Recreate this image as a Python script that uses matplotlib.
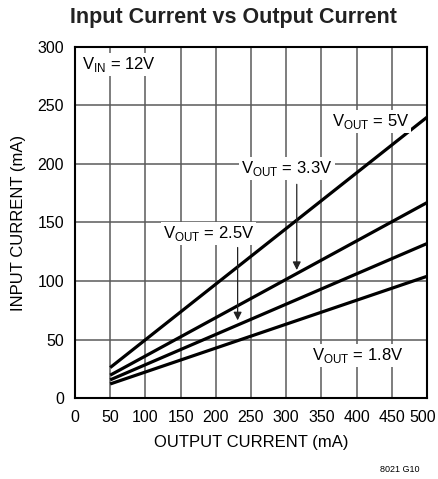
import numpy as np
import matplotlib.pyplot as plt
import matplotlib.transforms as mtransforms

plt.rcParams['font.family'] = ['Liberation Sans', 'DejaVu Sans']

# output current (mA) and input current (mA) for each V_OUT
iout = [50, 500]
iin_5v0 = [26, 240]
iin_3v3 = [19.5, 167]
iin_2v5 = [15.5, 132]
iin_1v8 = [12, 104]

xticks = [0, 50, 100, 150, 200, 250, 300, 350, 400, 450, 500]
yticks = [0, 50, 100, 150, 200, 250, 300]

fig = plt.figure(figsize=(4.39, 4.79), dpi=100)
ax = fig.add_axes([75 / 439, 1 - 398 / 479, 352 / 439, 351 / 479])

for y in (iin_5v0, iin_3v3, iin_2v5, iin_1v8):
    ax.plot(iout, y, color='black', lw=2.3, solid_capstyle='butt', zorder=3)

ax.set_xlim(0, 500)
ax.set_ylim(0, 300)
ax.set_xticks(xticks)
ax.set_yticks(yticks)
ax.grid(True, color='#5a5a5a', lw=1.1)
ax.tick_params(length=0, labelsize=11.5)
ax.tick_params(axis='x', pad=9)
ax.tick_params(axis='y', pad=8)
for s in ax.spines.values():
    s.set_linewidth(1.5)

# keep the last x label inside the figure
lbls = ax.get_xticklabels()
lbls[-1].set_transform(lbls[-1].get_transform() +
                       mtransforms.ScaledTranslation(-4 / 100, 0, fig.dpi_scale_trans))

ax.set_xlabel('OUTPUT CURRENT (mA)', fontsize=12, labelpad=7)
ax.set_ylabel('INPUT CURRENT (mA)', fontsize=12, labelpad=8)
fig.text(233 / 439, 1 - 18 / 479, 'Input Current vs Output Current', ha='center', va='center',
         fontsize=15.5, fontweight='bold', color='#222222')

box = dict(facecolor='white', edgecolor='none', pad=1.5)
ax.text(10, 285, r'V$_{\mathregular{IN}}$ = 12V', fontsize=12, va='center', bbox=box, zorder=4)
ax.text(420, 236, r'V$_{\mathregular{OUT}}$ = 5V', fontsize=12, ha='center', va='center', bbox=box, zorder=4)
ax.text(301, 196, r'V$_{\mathregular{OUT}}$ = 3.3V', fontsize=12, ha='center', va='center', bbox=box, zorder=4)
ax.text(190, 141, r'V$_{\mathregular{OUT}}$ = 2.5V', fontsize=12, ha='center', va='center', bbox=box, zorder=4)
ax.text(402, 36, r'V$_{\mathregular{OUT}}$ = 1.8V', fontsize=12, ha='center', va='center', bbox=box, zorder=4)

arrow = dict(arrowstyle='-|>', color='#222222', lw=0.9, mutation_scale=12)
ax.annotate('', xy=(315, 107), xytext=(315, 185), arrowprops=arrow, zorder=5)
ax.annotate('', xy=(231, 64), xytext=(231, 131), arrowprops=arrow, zorder=5)

fig.text(400 / 439, 1 - 469 / 479, '8021 G10', fontsize=6.5, ha='center', va='center')

fig.savefig('out.png', dpi=100)
